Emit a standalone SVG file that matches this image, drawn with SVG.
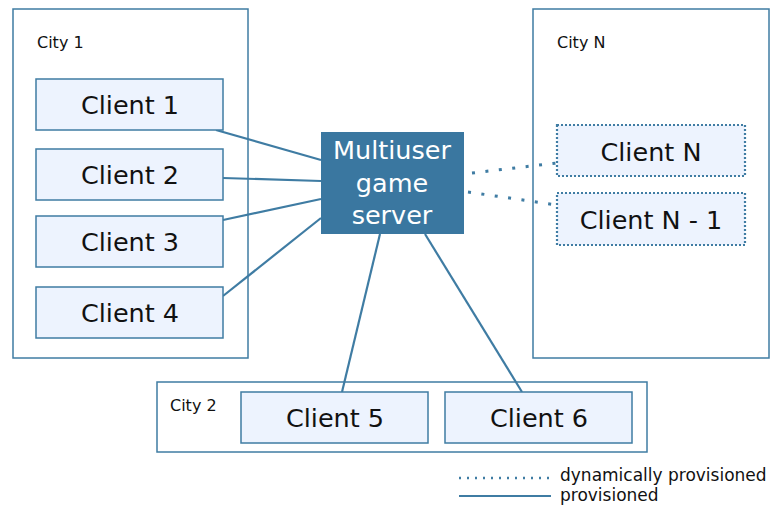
<svg xmlns="http://www.w3.org/2000/svg" width="773" height="507" viewBox="0 0 773 507">
<style>
.city{fill:#fff;stroke:#3f7ca3;stroke-width:1.5}
.client{fill:#edf3fe;stroke:#3f7ca3;stroke-width:1.5}
.dyn{fill:#edf3fe;stroke:#3f7ca3;stroke-width:2.2;stroke-dasharray:2 2}
.lbl{font-family:"DejaVu Sans",sans-serif;font-size:25.5px;fill:#111;text-anchor:middle}
.clbl{font-family:"DejaVu Sans",sans-serif;font-size:16px;fill:#111}
.srv{font-family:"DejaVu Sans",sans-serif;font-size:25.5px;fill:#fff;text-anchor:middle}
.line{stroke:#3f7ca3;stroke-width:2.2;fill:none}
.dot{stroke:#3f7ca3;stroke-width:3;fill:none;stroke-dasharray:3 10.5}
</style>
<g id="city1"><rect class="city" x="13" y="9" width="235" height="349"/><text class="clbl" x="37" y="48">City 1</text></g>
<g id="cityN"><rect class="city" x="533" y="9" width="236" height="349"/><text class="clbl" x="557" y="48">City N</text></g>
<g id="city2"><rect class="city" x="157" y="382" width="490" height="70"/><text class="clbl" x="170" y="411">City 2</text></g>
<g id="connectors">
<line class="line" x1="216" y1="130" x2="321" y2="160"/>
<line class="line" x1="223" y1="178" x2="321" y2="181"/>
<line class="line" x1="223" y1="220" x2="321" y2="199"/>
<line class="line" x1="223" y1="296" x2="321" y2="218"/>
<line class="line" x1="380" y1="234" x2="342" y2="392"/>
<line class="line" x1="425" y1="234" x2="522" y2="392"/>
<line class="dot" x1="472" y1="173" x2="557" y2="163"/>
<line class="dot" x1="468" y1="192" x2="557" y2="205"/>
</g>
<g id="client1"><rect class="client" x="36" y="79" width="187" height="51"/><text class="lbl" x="130" y="114">Client 1</text></g>
<g id="client2"><rect class="client" x="36" y="149" width="187" height="51"/><text class="lbl" x="130" y="184">Client 2</text></g>
<g id="client3"><rect class="client" x="36" y="216" width="187" height="51"/><text class="lbl" x="130" y="251">Client 3</text></g>
<g id="client4"><rect class="client" x="36" y="287" width="187" height="51"/><text class="lbl" x="130" y="322">Client 4</text></g>
<g id="server"><rect x="321" y="132" width="143" height="102" fill="#3a77a0"/>
<text class="srv" x="392" y="159">Multiuser</text><text class="srv" x="392" y="192">game</text><text class="srv" x="392" y="224">server</text></g>
<g id="clientN"><rect class="dyn" x="557" y="125" width="188" height="51"/><text class="lbl" x="651" y="161">Client N</text></g>
<g id="clientN1"><rect class="dyn" x="557" y="193" width="188" height="52"/><text class="lbl" x="651" y="229">Client N - 1</text></g>
<g id="client5"><rect class="client" x="241" y="392" width="187" height="51"/><text class="lbl" x="335" y="427">Client 5</text></g>
<g id="client6"><rect class="client" x="445" y="392" width="187" height="51"/><text class="lbl" x="539" y="427">Client 6</text></g>
<g id="legend">
<line class="dot" x1="459" y1="478" x2="551" y2="478" style="stroke-width:2.5;stroke-dasharray:2 6"/>
<line class="line" x1="459" y1="496" x2="551" y2="496"/>
<text class="clbl" x="560" y="481" style="font-size:17px">dynamically provisioned</text>
<text class="clbl" x="560" y="501" style="font-size:17px">provisioned</text>
</g>
</svg>
